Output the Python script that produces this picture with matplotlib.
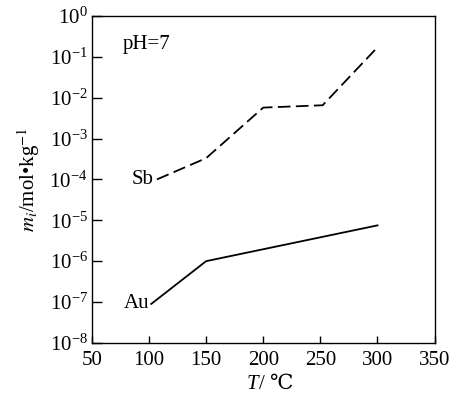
import matplotlib
matplotlib.use('Agg')
import matplotlib.pyplot as plt
from matplotlib.ticker import LogLocator, NullLocator

plt.rcParams['font.family'] = ['Liberation Serif', 'DejaVu Serif']
plt.rcParams['mathtext.fontset'] = 'stix'

# data
sb_T = [107, 150, 200, 252, 300]
sb_m = [1.0e-4, 3.3e-4, 5.7e-3, 6.5e-3, 0.17]
au_T = [102, 150, 300]
au_m = [9e-8, 1.0e-6, 7.5e-6]
xticks = [50, 100, 150, 200, 250, 300, 350]

fs = 15

fig = plt.figure(figsize=(4.57, 3.96), dpi=100)
ax = fig.add_axes([0.201, 0.134, 0.750, 0.826])

ax.plot(sb_T, sb_m, color='black', lw=1.3, linestyle=(0, (7, 3)))
ax.plot(au_T, au_m, color='black', lw=1.3)

ax.set_yscale('log')
ax.set_xlim(50, 350)
ax.set_ylim(1e-8, 1)
ax.set_xticks(xticks)
ax.yaxis.set_major_locator(LogLocator(base=10, numticks=12))
ax.yaxis.set_minor_locator(NullLocator())

ax.tick_params(axis='both', direction='in', labelsize=fs, width=1, colors='black')
ax.tick_params(axis='y', length=7, pad=3)
ax.tick_params(axis='x', length=5, pad=5.5)
for s in ax.spines.values():
    s.set_linewidth(1.0)

ax.text(104, 1.0e-4, 'Sb', fontsize=fs, ha='right', va='center')
ax.text(100, 9e-8, 'Au', fontsize=fs, ha='right', va='center')
ax.text(77, 0.2, 'pH=7', fontsize=fs, ha='left', va='center')

# x label: italic T, then / ℃ in plain text
xc = (0.201 + 0.951) / 2
fig.text(xc - 0.01, 0.03, 'T', fontsize=fs, style='italic', ha='right', va='center')
fig.text(xc - 0.01, 0.03, '/ ℃', fontsize=fs, ha='left', va='center')
ax.set_ylabel(r'$m_i$/mol•kg$^{-1}$', fontsize=fs, labelpad=5)

plt.savefig('out.png', dpi=100)
